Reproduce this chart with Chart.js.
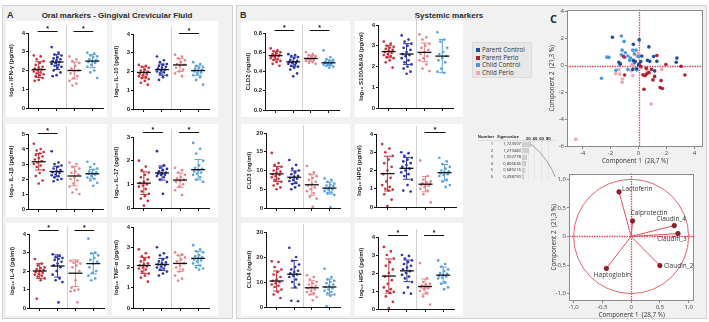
<!DOCTYPE html>
<html>
<head>
<meta charset="utf-8">
<script src="https://cdn.jsdelivr.net/npm/chart.js@4.4.1/dist/chart.umd.min.js"></script>
<style>
  body { margin: 0; width: 709px; height: 322px; background: #fff; position: relative; overflow: hidden; font-family: "Liberation Sans", Arial, sans-serif; }
  .panel { position: absolute; background: #f1f1f1; border: 1px solid #d2d2d2; box-sizing: border-box; }
  .card { position: absolute; background: #fff; }
  .lbl { position: absolute; font-weight: bold; color: #2a2a2a; white-space: nowrap; }
  canvas { position: absolute; }
  #legend { position: absolute; left: 472px; top: 42px; width: 60px; height: 36px; background: #e8e8e8; border: 1px solid #dcdcdc; box-sizing: border-box; padding: 3px 0 0 3px; font-family: "Open Sans", sans-serif; font-size: 6.3px; color: #333; }
  #legend div { height: 7.5px; line-height: 7.5px; white-space: nowrap; }
  #legend span { display: inline-block; width: 4px; height: 4px; margin-right: 2px; vertical-align: 0px; }
</style>
</head>
<body>
<div class="panel" style="left:2px;top:5px;width:231px;height:314px"></div>
<div class="panel" style="left:236px;top:5px;width:471px;height:314px"></div>
<div class="lbl" style="left:7px;top:10px;font-size:9px">A</div>
<div class="lbl" style="left:117px;top:11px;font-size:8px;transform:translateX(-50%)">Oral markers - Gingival Crevicular Fluid</div>
<div class="lbl" style="left:240px;top:10px;font-size:9px">B</div>
<div class="lbl" style="left:449px;top:11px;font-size:8px;transform:translateX(-50%)">Systemic markers</div>
<div class="lbl" style="left:550px;top:11px;font-size:11px;font-family:'Open Sans',sans-serif">C</div>
<div id="legend"></div>

<script>
// ---- groups ----
const groups = ['Parent Perio', 'Parent Control', 'Child Perio', 'Child Control'];
const groupColors = ['#c9323a', '#2b36ad', '#e8868b', '#58a3dd'];

// ---- Panel A: oral markers ----
const ifnPP = [2.8, 2.75, 2.6, 2.5, 2.4, 2.3, 2.2, 2.15, 2.1, 2.05, 2.0, 1.95, 1.9, 1.85, 1.8, 1.75, 1.7, 1.6, 1.5, 1.45];
const ifnPC = [3.25, 2.95, 2.85, 2.8, 2.7, 2.65, 2.6, 2.55, 2.5, 2.45, 2.4, 2.35, 2.3, 2.25, 2.2, 2.15, 2.0, 1.9, 1.75, 1.7];
const ifnCP = [2.75, 2.6, 2.5, 2.4, 2.25, 2.1, 2.0, 1.95, 1.85, 1.7, 1.6, 1.45, 1.3, 1.2];
const ifnCC = [2.95, 2.9, 2.8, 2.75, 2.7, 2.6, 2.55, 2.5, 2.45, 2.4, 2.3, 2.2, 2.0, 1.9, 1.6];
const ifnMean = [2.05, 2.45, 2.0, 2.5];
const ifnSd = [0.42, 0.4, 0.45, 0.35];

const il10PP = [2.35, 2.3, 2.25, 2.2, 2.1, 2.05, 2.0, 1.95, 1.9, 1.85, 1.8, 1.75, 1.7, 1.65, 1.6, 1.5, 1.4, 1.3];
const il10PC = [2.8, 2.6, 2.5, 2.4, 2.35, 2.3, 2.25, 2.2, 2.15, 2.1, 2.05, 2.0, 1.95, 1.9, 1.8, 1.7, 1.55];
const il10CP = [2.9, 2.8, 2.7, 2.6, 2.5, 2.4, 2.35, 2.3, 2.2, 2.1, 2.0, 1.9, 1.75];
const il10CC = [2.5, 2.4, 2.3, 2.25, 2.2, 2.15, 2.1, 2.05, 2.0, 1.95, 1.9, 1.8, 1.7, 1.55, 1.3];
const il10Mean = [1.95, 2.1, 2.35, 2.05];
const il10Sd = [0.3, 0.3, 0.35, 0.25];

const il1bPP = [4.35, 4.0, 3.9, 3.8, 3.7, 3.6, 3.5, 3.4, 3.3, 3.2, 3.1, 3.0, 2.9, 2.8, 2.6, 2.4, 2.2, 1.9, 1.7];
const il1bPC = [3.85, 3.1, 3.0, 2.9, 2.8, 2.7, 2.6, 2.5, 2.45, 2.4, 2.3, 2.25, 2.2, 2.1, 2.0, 1.95, 1.85];
const il1bCP = [3.1, 3.0, 2.8, 2.7, 2.5, 2.4, 2.3, 2.1, 2.0, 1.9, 1.7, 1.5, 1.3, 1.1, 1.0];
const il1bCC = [3.15, 3.0, 2.8, 2.7, 2.6, 2.5, 2.45, 2.4, 2.35, 2.3, 2.2, 2.1, 2.0, 1.9, 1.75, 1.55];
const il1bMean = [3.15, 2.5, 2.2, 2.35];
const il1bSd = [0.55, 0.35, 0.65, 0.3];

const il17PP = [2.0, 1.75, 1.6, 1.5, 1.4, 1.3, 1.2, 1.1, 1.05, 1.0, 0.95, 0.9, 0.8, 0.7, 0.6, 0.5, 0.4, 0.3, 0.1];
const il17PC = [2.4, 1.8, 1.7, 1.65, 1.6, 1.55, 1.5, 1.45, 1.45, 1.4, 1.4, 1.35, 1.3, 1.2, 1.1, 0.6];
const il17CP = [1.7, 1.6, 1.5, 1.4, 1.3, 1.25, 1.2, 1.15, 1.1, 1.0, 0.9, 0.75, 0.55];
const il17CC = [2.75, 2.5, 2.3, 2.0, 1.8, 1.7, 1.65, 1.6, 1.55, 1.5, 1.45, 1.4, 1.3, 1.2, 1.1];
const il17Mean = [1.05, 1.48, 1.18, 1.62];
const il17Sd = [0.48, 0.3, 0.3, 0.43];

const il4PP = [2.65, 2.4, 2.3, 2.2, 2.15, 2.1, 2.05, 2.0, 1.95, 1.9, 1.85, 1.8, 1.75, 1.7, 1.6, 1.5, 0.5];
const il4PC = [2.9, 2.8, 2.75, 2.7, 2.65, 2.6, 2.5, 2.4, 2.3, 2.2, 2.0, 1.8, 1.6, 1.5, 1.4, 0.3];
const il4CP = [2.55, 2.5, 2.45, 2.4, 2.3, 2.2, 2.0, 1.5, 1.1, 1.0, 0.95, 0.9, 0.3];
const il4CC = [3.75, 3.0, 2.95, 2.85, 2.7, 2.6, 2.5, 2.4, 2.2, 2.0, 1.9, 1.75, 1.6, 1.5];
const il4Mean = [2.0, 2.27, 1.88, 2.4];
const il4Sd = [0.4, 0.6, 0.72, 0.55];

const tnfPP = [2.9, 2.7, 2.55, 2.5, 2.4, 2.3, 2.2, 2.15, 2.1, 2.05, 2.0, 1.95, 1.9, 1.8, 1.7, 1.6, 1.5, 1.3];
const tnfPC = [3.0, 2.7, 2.6, 2.5, 2.4, 2.3, 2.25, 2.2, 2.15, 2.1, 2.05, 2.0, 1.95, 1.9, 1.8, 1.7, 1.6];
const tnfCP = [2.75, 2.65, 2.6, 2.5, 2.4, 2.3, 2.2, 2.1, 2.0, 1.9, 1.8, 1.6, 1.45, 1.35];
const tnfCC = [3.1, 2.9, 2.8, 2.75, 2.6, 2.55, 2.5, 2.45, 2.4, 2.35, 2.3, 2.2, 2.1, 2.0, 1.95, 1.9];
const tnfMean = [2.1, 2.15, 2.2, 2.45];
const tnfSd = [0.4, 0.3, 0.4, 0.35];

// ---- Panel B: systemic markers ----
const cld2PP = [0.64, 0.62, 0.61, 0.6, 0.59, 0.58, 0.57, 0.57, 0.56, 0.56, 0.55, 0.54, 0.53, 0.52, 0.51, 0.5, 0.48, 0.46];
const cld2PC = [0.58, 0.57, 0.56, 0.55, 0.54, 0.52, 0.51, 0.5, 0.5, 0.49, 0.49, 0.48, 0.47, 0.46, 0.45, 0.44, 0.42, 0.38, 0.35];
const cld2CP = [0.6, 0.58, 0.57, 0.56, 0.55, 0.54, 0.54, 0.53, 0.53, 0.52, 0.52, 0.51, 0.5, 0.49, 0.48];
const cld2CC = [0.62, 0.55, 0.53, 0.52, 0.51, 0.5, 0.5, 0.49, 0.49, 0.48, 0.48, 0.47, 0.47, 0.46, 0.45, 0.44];
const cld2Mean = [0.565, 0.5, 0.535, 0.49];
const cld2Sd = [0.045, 0.05, 0.03, 0.03];

const s100PP = [3.2, 3.1, 3.0, 2.95, 2.9, 2.85, 2.8, 2.75, 2.7, 2.65, 2.6, 2.55, 2.5, 2.45, 2.4, 2.3, 2.2, 1.95];
const s100PC = [3.5, 3.3, 3.2, 3.1, 3.0, 2.9, 2.8, 2.7, 2.6, 2.55, 2.5, 2.4, 2.3, 2.2, 2.1, 2.0, 1.9, 1.75, 1.65];
const s100CP = [3.55, 3.4, 3.3, 3.1, 3.0, 2.9, 2.8, 2.7, 2.6, 2.5, 2.4, 2.3, 2.1, 1.9, 1.78];
const s100CC = [3.65, 3.3, 3.2, 2.9, 2.7, 2.6, 2.5, 2.4, 2.3, 2.2, 1.9, 1.75, 1.7];
const s100Mean = [2.72, 2.6, 2.68, 2.5];
const s100Sd = [0.3, 0.5, 0.45, 0.8];

const cld3PP = [14.7, 12.0, 11.5, 11.0, 10.5, 10.0, 9.7, 9.4, 9.0, 8.8, 8.5, 8.2, 7.8, 7.5, 7.0, 6.5, 6.0, 5.5, 5.0];
const cld3PC = [12.8, 11.5, 10.5, 10.0, 9.5, 9.0, 8.6, 8.3, 8.0, 7.8, 7.5, 7.2, 6.8, 6.4, 6.0, 5.5, 5.0];
const cld3CP = [11.2, 9.5, 9.0, 8.5, 8.0, 7.5, 7.0, 6.5, 6.0, 5.5, 5.0, 4.5, 4.0, 3.0, 2.5, 0.3];
const cld3CC = [7.9, 7.5, 7.0, 6.5, 6.2, 6.0, 5.8, 5.5, 5.2, 5.0, 4.8, 4.5, 4.2, 4.0, 3.5, 0.2];
const cld3Mean = [9.1, 8.2, 6.2, 5.3];
const cld3Sd = [2.0, 1.7, 2.8, 1.6];

const hpgPP = [3.45, 3.2, 3.0, 2.8, 2.6, 2.4, 2.2, 2.0, 1.8, 1.6, 1.4, 1.2, 1.1, 1.0, 0.95, 0.9, 0.7, 0.4, 0.05];
const hpgPC = [3.0, 2.95, 2.8, 2.7, 2.6, 2.5, 2.4, 2.3, 2.2, 2.1, 2.0, 1.9, 1.8, 1.7, 1.5, 1.2, 0.9, 0.85];
const hpgCP = [2.55, 1.7, 1.5, 1.4, 1.35, 1.3, 1.25, 1.2, 1.2, 1.15, 1.1, 1.0, 0.9, 0.7, 0.25];
const hpgCC = [2.7, 2.5, 2.35, 2.2, 2.1, 2.0, 1.95, 1.9, 1.85, 1.8, 1.75, 1.7, 1.5, 1.4, 1.2, 1.1];
const hpgMean = [1.83, 2.12, 1.25, 1.88];
const hpgSd = [0.95, 0.6, 0.42, 0.45];

const cld4PP = [18.3, 18.0, 16.0, 15.0, 14.0, 13.0, 12.0, 11.0, 10.5, 10.0, 9.5, 9.0, 8.5, 8.0, 7.0, 6.0, 5.0, 3.6];
const cld4PC = [23.7, 20.0, 18.5, 17.0, 16.0, 15.0, 14.5, 14.0, 13.5, 13.0, 12.5, 12.0, 11.0, 10.0, 9.0, 8.0, 2.5, 2.3];
const cld4CP = [12.7, 12.0, 11.0, 10.0, 9.5, 9.0, 8.5, 8.0, 7.5, 7.0, 6.5, 6.0, 5.5, 5.0, 4.0, 2.7];
const cld4CC = [15.3, 12.0, 11.0, 10.5, 10.0, 9.5, 9.0, 8.5, 8.0, 7.5, 7.0, 6.5, 6.0, 5.5, 5.0, 4.5, 0.3];
const cld4Mean = [10.4, 13.1, 7.7, 8.0];
const cld4Sd = [4.0, 5.5, 2.8, 3.2];

// ---- Panel C: PCA ----
const pcaLabels = ['Parent Control', 'Parent Perio', 'Child Control', 'Child Perio'];
const pcaColors = ['#1d4f9e', '#b31e2c', '#4f95dc', '#f2a3ad'];
const pcParentControl = [[-1.86, 2.1], [-0.37, 1.57], [0.05, 1.9], [0.74, 1.38], [1.08, 0.67], [0.23, 0.71], [-0.37, 0.38], [-0.23, 0.29], [0.16, 0.29], [0.64, 0.38], [0.8, 0.31], [1.31, 0.31], [2.74, 0.55], [2.69, 0.24], [-1.4, 0.24], [-1.29, 0.12], [-0.41, -0.29], [-0.14, -0.24], [1.15, -0.4], [0.0, 0.05]];
const pcParentPerio = [[-1.06, 0.67], [1.31, 0.74], [0.05, 0.12], [0.16, -0.05], [0.32, -0.69], [0.46, -0.76], [0.57, -0.64], [0.74, -0.52], [0.92, -0.29], [1.03, -1.07], [1.61, -1.12], [1.15, -0.81], [0.39, -1.76], [1.54, -1.64], [1.7, -1.71], [1.95, 0.07], [3.03, -0.05], [3.31, -0.71], [-0.99, -0.71], [0.55, -0.21]];
const pcChildControl = [[-1.22, 2.19], [-1.03, 1.79], [-1.17, 1.14], [-0.94, 0.95], [-1.22, 0.79], [-0.99, 0.6], [-2.25, 0.62], [-2.11, 0.6], [-2.64, -0.95], [-1.61, -0.36], [-1.33, 0.05], [-0.41, 1.14], [-0.18, 1.14], [-0.3, 0.86], [-0.02, 0.67], [-0.57, 0.55], [-0.76, 0.71], [-0.64, 0.38], [-0.3, 0.19], [-0.76, -0.29], [-0.11, -0.33]];
const pcChildPerio = [[-4.48, -5.48], [0.9, -2.86], [0.0, 0.9], [-0.11, 0.74], [-1.63, -0.6], [-1.33, -0.64], [-1.15, -1.0], [-1.17, -1.24], [-0.41, -0.76], [-0.53, -0.4], [0.62, -0.4], [0.76, -0.57], [1.66, -0.29], [-0.46, 0.07], [-0.37, -0.1], [-1.4, -0.29], [0.21, -0.17]];

const loadingNames = ['Lactoferin', 'Calprotectin', 'Claudin_4', 'Claudin_3', 'Claudin_2', 'Haptoglobin'];
const loadingX = [-0.21, 0.025, 0.75, 0.815, 0.5, -0.43];
const loadingY = [0.78, 0.27, 0.19, 0.05, -0.51, -0.56];

const eigenNumbers = ['1', '2', '3', '4', '5', '6'];
const eigenValues = [1.723097, 1.279483, 1.002778, 0.806636, 0.689216, 0.498790];

Chart.defaults.animation = false;
Chart.defaults.font.family = '"Liberation Sans", Arial, sans-serif';

// ---- strip plots ----
const strips = {
  ifn:  { title: 'log₁₀ IFN-γ (pg/ml)', vals: [ifnPP, ifnPC, ifnCP, ifnCC], mean: ifnMean, sd: ifnSd, max: 4, step: 1, sig: [[0, 1], [2, 3]] },
  il10: { title: 'log₁₀ IL-10 (pg/ml)', vals: [il10PP, il10PC, il10CP, il10CC], mean: il10Mean, sd: il10Sd, max: 4, step: 1, sig: [[2, 3]] },
  il1b: { title: 'log₁₀ IL-1β (pg/ml)', vals: [il1bPP, il1bPC, il1bCP, il1bCC], mean: il1bMean, sd: il1bSd, max: 5, step: 1, sig: [[0, 1]] },
  il17: { title: 'log₁₀ IL-17 (pg/ml)', vals: [il17PP, il17PC, il17CP, il17CC], mean: il17Mean, sd: il17Sd, max: 3, step: 1, sig: [[0, 1], [2, 3]] },
  il4:  { title: 'log₁₀ IL-4 (pg/ml)', vals: [il4PP, il4PC, il4CP, il4CC], mean: il4Mean, sd: il4Sd, max: 4, step: 1, sig: [[0, 1], [2, 3]] },
  tnf:  { title: 'log₁₀ TNF-α (pg/ml)', vals: [tnfPP, tnfPC, tnfCP, tnfCC], mean: tnfMean, sd: tnfSd, max: 4, step: 1, sig: [] },
  cld2: { title: 'CLD2 (ng/ml)', vals: [cld2PP, cld2PC, cld2CP, cld2CC], mean: cld2Mean, sd: cld2Sd, max: 0.8, step: 0.2, sig: [[0, 1], [2, 3]] },
  s100: { title: 'log₁₀ S100A8/A9 (pg/ml)', vals: [s100PP, s100PC, s100CP, s100CC], mean: s100Mean, sd: s100Sd, max: 4, step: 1, sig: [] },
  cld3: { title: 'CLD3 (ng/ml)', vals: [cld3PP, cld3PC, cld3CP, cld3CC], mean: cld3Mean, sd: cld3Sd, max: 20, step: 5, sig: [] },
  hpg1: { title: 'log₁₀ HPG (pg/ml)', vals: [hpgPP, hpgPC, hpgCP, hpgCC], mean: hpgMean, sd: hpgSd, max: 4, step: 1, sig: [[2, 3]] },
  cld4: { title: 'CLD4 (ng/ml)', vals: [cld4PP, cld4PC, cld4CP, cld4CC], mean: cld4Mean, sd: cld4Sd, max: 30, step: 10, sig: [] },
  hpg2: { title: 'log₁₀ HPG (pg/ml)', vals: [hpgPP, hpgPC, hpgCP, hpgCC], mean: hpgMean, sd: hpgSd, max: 4, step: 1, sig: [[0, 1], [2, 3]] }
};

// where each plot sits: axis x, axis end, top, bottom (px), sig bar height (in axis units)
const stripLayout = {
  ifn:  { ax: 28, end: 103, top: 33, bottom: 108, sigAt: 4.1 },
  il10: { ax: 133, end: 209, top: 34, bottom: 109, sigAt: 4.05 },
  il1b: { ax: 28, end: 103, top: 134, bottom: 209, sigAt: 5.05 },
  il17: { ax: 133, end: 209, top: 137, bottom: 208, sigAt: 3.22 },
  il4:  { ax: 29, end: 104, top: 234, bottom: 308, sigAt: 4.2 },
  tnf:  { ax: 133, end: 209, top: 227, bottom: 308 },
  cld2: { ax: 265, end: 339, top: 33, bottom: 110, sigAt: 0.83 },
  s100: { ax: 378, end: 453, top: 25, bottom: 108 },
  cld3: { ax: 266, end: 340, top: 133, bottom: 208 },
  hpg1: { ax: 376, end: 456, top: 134, bottom: 207, sigAt: 4.13 },
  cld4: { ax: 266, end: 340, top: 232, bottom: 307 },
  hpg2: { ax: 378, end: 454, top: 237, bottom: 309, sigAt: 4.13 }
};

const cards = [
  [6, 21, 101, 96], [112, 21, 106, 96], [6, 124, 101, 93], [112, 124, 106, 93], [6, 223, 101, 93], [112, 223, 106, 93],
  [241, 21, 109, 96], [355, 21, 108, 96], [241, 124, 109, 93], [355, 124, 108, 93], [241, 223, 109, 93], [355, 223, 108, 93]
];
cards.forEach(c => {
  const d = document.createElement('div');
  d.className = 'card';
  d.style.cssText = `left:${c[0]}px;top:${c[1]}px;width:${c[2]}px;height:${c[3]}px`;
  document.body.appendChild(d);
});

function jitter(i) {
  return (((i * 7) % 11) - 5) * 0.055;
}

const stripDecor = {
  id: 'stripDecor',
  beforeDatasetsDraw(chart) {
    const { ctx, chartArea: a, scales: { x } } = chart;
    const dx = Math.round(x.getPixelForValue(2.5)) + 0.5;
    ctx.save();
    ctx.strokeStyle = '#d0d0d0';
    ctx.lineWidth = 1;
    ctx.beginPath();
    ctx.moveTo(dx, a.bottom);
    ctx.lineTo(dx, a.top - 8);
    ctx.stroke();
    ctx.restore();
  },
  afterDatasetsDraw(chart, args, opts) {
    const { ctx, scales: { x, y } } = chart;
    ctx.save();
    opts.mean.forEach((m, g) => {
      const cx = x.getPixelForValue(g + 1);
      const yt = y.getPixelForValue(m + opts.sd[g]);
      const yb = y.getPixelForValue(Math.max(0, m - opts.sd[g]));
      const ym = y.getPixelForValue(m);
      ctx.strokeStyle = groupColors[g];
      ctx.lineWidth = 1;
      ctx.beginPath();
      ctx.moveTo(cx, yt); ctx.lineTo(cx, yb);
      ctx.moveTo(cx - 3.5, yt); ctx.lineTo(cx + 3.5, yt);
      ctx.moveTo(cx - 3.5, yb); ctx.lineTo(cx + 3.5, yb);
      ctx.stroke();
      ctx.strokeStyle = '#111';
      ctx.lineWidth = 1.3;
      ctx.beginPath();
      ctx.moveTo(cx - 7, ym); ctx.lineTo(cx + 7, ym);
      ctx.stroke();
    });
    opts.sig.forEach(([a, b]) => {
      const x1 = x.getPixelForValue(a + 1) - 1, x2 = x.getPixelForValue(b + 1) + 1;
      const sy = Math.round(y.getPixelForValue(opts.sigAt)) + 0.5;
      ctx.strokeStyle = '#111';
      ctx.lineWidth = 1;
      ctx.beginPath();
      ctx.moveTo(x1, sy); ctx.lineTo(x2, sy);
      ctx.stroke();
      ctx.fillStyle = '#111';
      ctx.font = 'bold 7px "Liberation Sans", Arial, sans-serif';
      ctx.textAlign = 'center';
      ctx.textBaseline = 'alphabetic';
      ctx.fillText('*', (x1 + x2) / 2, sy - 1);
    });
    ctx.restore();
  }
};

function addCanvas(left, top, w, h) {
  const cv = document.createElement('canvas');
  cv.width = w; cv.height = h;
  cv.style.left = left + 'px';
  cv.style.top = top + 'px';
  document.body.appendChild(cv);
  return cv;
}

Object.keys(strips).forEach(key => {
  const d = strips[key], L = stripLayout[key];
  const yW = 20, padTop = 14, xH = 7, padR = 4;
  const cv = addCanvas(L.ax - yW, L.top - padTop, yW + (L.end - L.ax) + padR, padTop + (L.bottom - L.top) + xH);
  new Chart(cv, {
    type: 'scatter',
    data: {
      datasets: d.vals.map((v, g) => ({
        label: groups[g],
        data: v.map((val, i) => ({ x: g + 1 + jitter(i), y: val })),
        backgroundColor: groupColors[g],
        pointRadius: 1.35,
        borderWidth: 0
      }))
    },
    options: {
      responsive: false,
      layout: { padding: { top: padTop, right: padR, left: 0, bottom: 0 } },
      plugins: {
        legend: { display: false },
        tooltip: { enabled: false },
        stripDecor: { mean: d.mean, sd: d.sd, sig: d.sig, sigAt: L.sigAt }
      },
      scales: {
        x: {
          type: 'linear', min: 0.4, max: 4.6,
          afterBuildTicks: s => { s.ticks = [1, 2, 3, 4].map(v => ({ value: v })); },
          afterFit: s => { s.height = xH; },
          ticks: { display: false },
          grid: { display: true, drawOnChartArea: false, drawTicks: true, tickLength: 3, color: '#111' },
          border: { color: '#111', width: 1 }
        },
        y: {
          min: 0, max: d.max,
          afterFit: s => { s.width = yW; },
          ticks: {
            stepSize: d.step, padding: 1, color: '#222',
            font: { size: 6, weight: 'bold' },
            callback: v => d.step < 1 ? v.toFixed(1) : v
          },
          grid: { display: true, drawOnChartArea: false, tickLength: 2, color: '#111' },
          border: { color: '#111', width: 1 },
          title: { display: true, text: d.title, color: '#222', font: { size: 6, weight: 'bold' }, padding: 0 }
        }
      }
    },
    plugins: [stripDecor]
  });
});

// ---- legend ----
const legendEl = document.getElementById('legend');
pcaLabels.forEach((name, i) => {
  const row = document.createElement('div');
  row.innerHTML = `<span style="background:${pcaColors[i]}"></span>${name}`;
  legendEl.appendChild(row);
});

const jmpFont = '"Open Sans", "DejaVu Sans", sans-serif';

const frameRefs = {
  id: 'frameRefs',
  beforeDatasetsDraw(chart, args, opts) {
    const { ctx, chartArea: a, scales: { x, y } } = chart;
    ctx.save();
    ctx.fillStyle = '#fff';
    ctx.fillRect(a.left, a.top, a.width, a.height);
    if (opts.circle) {
      const cx = x.getPixelForValue(0), cy = y.getPixelForValue(0);
      ctx.strokeStyle = '#e2505f';
      ctx.lineWidth = 0.9;
      ctx.beginPath();
      ctx.ellipse(cx, cy, x.getPixelForValue(1) - cx, cy - y.getPixelForValue(1), 0, 0, Math.PI * 2);
      ctx.stroke();
    }
    ctx.strokeStyle = '#e8475a';
    ctx.lineWidth = 1.3;
    ctx.setLineDash([1.5, 1]);
    const zx = Math.round(x.getPixelForValue(0)) + 0.5, zy = Math.round(y.getPixelForValue(0)) + 0.5;
    ctx.beginPath();
    ctx.moveTo(zx, a.top); ctx.lineTo(zx, a.bottom);
    ctx.moveTo(a.left, zy); ctx.lineTo(a.right, zy);
    ctx.stroke();
    ctx.restore();
  },
  afterDraw(chart) {
    const { ctx, chartArea: a } = chart;
    ctx.save();
    ctx.strokeStyle = '#8a8a8a';
    ctx.lineWidth = 1;
    ctx.strokeRect(Math.round(a.left) + 0.5, Math.round(a.top) + 0.5, Math.round(a.width) - 1, Math.round(a.height) - 1);
    ctx.restore();
  }
};

function jmpScale(min, max, step, title, isX, size) {
  return {
    type: 'linear', min, max,
    afterBuildTicks: s => {
      const t = [];
      for (let v = Math.ceil(min / step) * step; v <= max + 1e-9; v += step) t.push({ value: Math.round(v * 100) / 100 });
      s.ticks = t;
    },
    afterFit: s => { if (isX) s.height = size; else s.width = size; },
    ticks: {
      color: '#444', padding: 1, font: { family: jmpFont, size: 6 },
      callback: v => (step < 1 ? (v === 0 ? '0' : v.toFixed(1).replace('.', ',')) : v)
    },
    grid: { display: true, drawOnChartArea: false, tickLength: 2, color: '#888' },
    border: { display: false },
    title: { display: true, text: title, color: '#333', font: { family: jmpFont, size: 6.3 }, padding: 0 }
  };
}

// ---- PCA score plot ----
{
  const L = { left: 567, right: 707, top: 5, bottom: 147 }, yW = 19, xH = 18;
  const cv = addCanvas(L.left - yW, L.top, yW + L.right - L.left, L.bottom - L.top + xH);
  const sets = [pcParentControl, pcParentPerio, pcChildControl, pcChildPerio];
  new Chart(cv, {
    type: 'scatter',
    data: {
      datasets: sets.map((pts, i) => ({
        label: pcaLabels[i],
        data: pts.map(p => ({ x: p[0], y: p[1] })),
        backgroundColor: pcaColors[i],
        pointRadius: 1.8,
        borderWidth: 0
      }))
    },
    options: {
      responsive: false,
      layout: { padding: 0 },
      plugins: { legend: { display: false }, tooltip: { enabled: false }, frameRefs: {} },
      scales: {
        x: jmpScale(-5.1, 4.6, 2, 'Component 1  (28,7 %)', true, xH),
        y: jmpScale(-6.05, 4.15, 2, 'Component 2  (21,3 %)', false, yW)
      }
    },
    plugins: [frameRefs]
  });
}

// ---- loading plot ----
{
  const L = { left: 569, right: 699, top: 169, bottom: 301 }, yW = 19, xH = 18;
  const cv = addCanvas(L.left - yW, L.top, yW + L.right - L.left, L.bottom - L.top + xH);
  const loadLabels = {
    id: 'loadLabels',
    afterDatasetsDraw(chart) {
      const { ctx, scales: { x, y } } = chart;
      const place = [[3, -3, 'left'], [-2, -8, 'left'], [-3, -6, 'center'], [-6, 6, 'center'], [4, 1, 'left'], [6, 7, 'center']];
      ctx.save();
      ctx.fillStyle = '#333';
      ctx.font = '6.5px ' + jmpFont;
      ctx.textBaseline = 'middle';
      loadingNames.forEach((n, i) => {
        const px = x.getPixelForValue(loadingX[i]), py = y.getPixelForValue(loadingY[i]);
        ctx.textAlign = place[i][2];
        ctx.fillText(n, px + place[i][0], py + place[i][1]);
      });
      ctx.restore();
    }
  };
  new Chart(cv, {
    type: 'scatter',
    data: {
      datasets: loadingNames.map((n, i) => ({
        label: n,
        data: [{ x: 0, y: 0 }, { x: loadingX[i], y: loadingY[i] }],
        showLine: true,
        borderColor: '#e2505f',
        borderWidth: 1,
        pointRadius: [0, 2.3],
        backgroundColor: '#9b1b2a',
        pointBorderColor: '#5a0f18',
        pointBorderWidth: 0.6
      }))
    },
    options: {
      responsive: false,
      layout: { padding: 0 },
      plugins: { legend: { display: false }, tooltip: { enabled: false }, frameRefs: { circle: true } },
      scales: {
        x: jmpScale(-1.08, 1.1, 0.5, 'Component 1  (28,7 %)', true, xH),
        y: jmpScale(-1.13, 1.1, 0.5, 'Component 2  (21,3 %)', false, yW)
      }
    },
    plugins: [frameRefs, loadLabels]
  });
}

// ---- eigenvalue table with percent bars ----
{
  const total = eigenValues.reduce((s, v) => s + v, 0);
  const percent = eigenValues.map(v => v / total * 100);
  let run = 0;
  const cumPercent = percent.map(p => (run += p));
  const cv = addCanvas(470, 131, 90, 49);
  const tableText = {
    id: 'tableText',
    afterDraw(chart) {
      const { ctx, chartArea: a, scales: { y } } = chart;
      ctx.save();
      ctx.fillStyle = '#333';
      ctx.textBaseline = 'middle';
      ctx.font = 'bold 4px ' + jmpFont;
      ctx.textAlign = 'center';
      ctx.fillText('Number', 16, 6);
      ctx.fillText('Eigenvalue', 38, 6);
      ctx.font = '4.2px ' + jmpFont;
      eigenNumbers.forEach((n, i) => {
        const py = y.getPixelForValue(i);
        ctx.textAlign = 'center';
        ctx.fillText(n, 22, py);
        ctx.textAlign = 'right';
        ctx.fillText(eigenValues[i].toFixed(6).replace('.', ','), 51, py);
      });
      ctx.strokeStyle = '#cfcfcf';
      ctx.lineWidth = 0.6;
      ctx.beginPath();
      ctx.moveTo(8, a.top - 0.5); ctx.lineTo(a.right, a.top - 0.5);
      ctx.stroke();
      ctx.restore();
    }
  };
  new Chart(cv, {
    data: {
      labels: eigenNumbers,
      datasets: [
        { type: 'line', data: cumPercent, borderColor: '#777', borderWidth: 0.7, pointRadius: 0, tension: 0.4, clip: false },
        { type: 'bar', data: percent, backgroundColor: '#cfcfcf', borderColor: '#8e8e8e', borderWidth: 0.6, barPercentage: 1, categoryPercentage: 0.8 }
      ]
    },
    options: {
      indexAxis: 'y',
      responsive: false,
      layout: { padding: { left: 51.5, right: 5, top: 0, bottom: 0 } },
      plugins: { legend: { display: false }, tooltip: { enabled: false } },
      scales: {
        x: {
          position: 'top', min: 0, max: 100,
          afterBuildTicks: s => { s.ticks = [20, 40, 60, 80].map(v => ({ value: v })); },
          afterFit: s => { s.height = 10; },
          ticks: { color: '#333', padding: 0, maxRotation: 0, minRotation: 0, autoSkip: false, font: { family: jmpFont, size: 4.2, weight: 'bold' } },
          grid: { color: '#dddddd', lineWidth: 0.6, drawTicks: false },
          border: { display: false }
        },
        y: { display: false }
      }
    },
    plugins: [tableText]
  });
}
</script>
</body>
</html>
